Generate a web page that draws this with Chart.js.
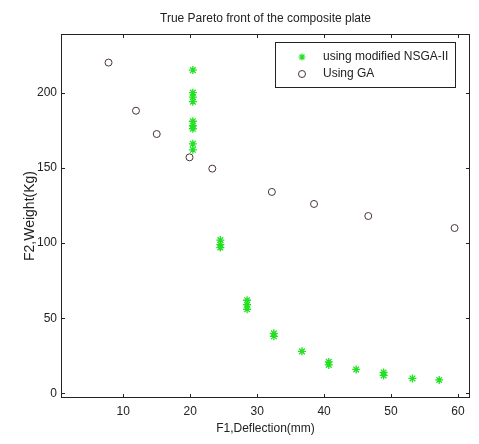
<!DOCTYPE html>
<html>
<head>
<meta charset="utf-8">
<script src="https://cdn.jsdelivr.net/npm/chart.js@4.4.0/dist/chart.umd.min.js"></script>
<style>
  html, body { margin: 0; padding: 0; background: #fff; }
  #wrap { position: relative; width: 479px; height: 444px; }
</style>
</head>
<body>
<div id="wrap"><canvas id="c" width="479" height="444"></canvas></div>
<script>
const chartTitle = "True Pareto front of the composite plate";
const xTitle = "F1,Deflection(mm)";
const yTitle = "F2,Weight(Kg)";
const seriesNames = ["using modified NSGA-II", "Using GA"];

// modified NSGA-II (clusters of near-duplicate solutions)
const nsgaX = [20.4, 20.4, 20.4, 20.4, 20.4, 20.4, 20.4, 20.4, 20.4,
               24.5, 24.5, 24.5,
               28.5, 28.5, 28.5,
               32.5, 32.5,
               36.7,
               40.7, 40.7,
               44.8,
               48.9, 48.9,
               53.2,
               57.2];
const nsgaY = [215, 200, 197, 194, 181, 178, 176, 166, 162,
               102, 99, 97,
               62, 59, 56,
               40, 38,
               28,
               21, 19,
               16,
               14, 12,
               10,
               9];

// GA
const gaX = [7.8, 11.9, 15.0, 19.9, 23.3, 32.2, 38.5, 46.6, 59.5];
const gaY = [220, 188, 172.5, 157, 149.5, 134, 126, 118, 110];

const xTicks = [10, 20, 30, 40, 50, 60];
const yTicks = [0, 50, 100, 150, 200];
const xRange = [0.7, 61.8];
const yRange = [-3, 239];

const FONT = "Liberation Sans, Arial, sans-serif";

function pts(xs, ys) { return xs.map((x, i) => ({ x: x, y: ys[i] })); }

const framePlugin = {
  id: 'frame',
  afterDatasetsDraw(chart) {
    const ctx = chart.ctx;
    const a = chart.chartArea;
    const xs = chart.scales.x, ys = chart.scales.y;
    ctx.save();
    ctx.strokeStyle = '#222';
    ctx.lineWidth = 1;
    // box
    ctx.strokeRect(Math.round(a.left) + 0.5, Math.round(a.top) + 0.5,
                   Math.round(a.right - a.left) - 1, Math.round(a.bottom - a.top) - 1);
    // inward ticks
    const L = 4;
    ctx.beginPath();
    xs.ticks.forEach(t => {
      const p = Math.round(xs.getPixelForValue(t.value)) + 0.5;
      ctx.moveTo(p, a.bottom); ctx.lineTo(p, a.bottom - L);
      ctx.moveTo(p, a.top); ctx.lineTo(p, a.top + L);
    });
    ys.ticks.forEach(t => {
      const p = Math.round(ys.getPixelForValue(t.value)) + 0.5;
      ctx.moveTo(a.left, p); ctx.lineTo(a.left + L, p);
      ctx.moveTo(a.right, p); ctx.lineTo(a.right - L, p);
    });
    ctx.stroke();

    // title
    ctx.fillStyle = '#222';
    ctx.font = "12px " + FONT;
    ctx.textAlign = 'center';
    ctx.textBaseline = 'middle';
    ctx.fillText(chartTitle, (a.left + a.right) / 2, 19);

    // legend box
    const bx = 275.5, by = 42.5, bw = 180, bh = 45;
    ctx.fillStyle = '#fff';
    ctx.fillRect(bx, by, bw, bh);
    ctx.strokeStyle = '#222';
    ctx.strokeRect(bx, by, bw, bh);
    ctx.fillStyle = '#222';
    ctx.font = "12px " + FONT;
    ctx.textAlign = 'left';
    ctx.fillText(seriesNames[0], 323, 57);
    ctx.fillText(seriesNames[1], 323, 74);
    ctx.restore();
    // legend markers
    const m0 = chart.data.datasets[0], m1 = chart.data.datasets[1];
    ctx.save();
    ctx.strokeStyle = m0.borderColor; ctx.fillStyle = m0.borderColor; ctx.lineWidth = 1.2;
    Chart.helpers.drawPoint(ctx, { pointStyle: 'star', radius: 3.5, borderWidth: 1.2, rotation: 0 }, 302, 57);
    ctx.strokeStyle = m1.borderColor; ctx.fillStyle = 'rgba(0,0,0,0)'; ctx.lineWidth = 1;
    Chart.helpers.drawPoint(ctx, { pointStyle: 'circle', radius: 3.5, borderWidth: 1, rotation: 0 }, 302, 74);
    ctx.restore();
  }
};

new Chart(document.getElementById('c'), {
  type: 'scatter',
  data: {
    datasets: [
      {
        label: seriesNames[0],
        data: pts(nsgaX, nsgaY),
        pointStyle: 'star',
        pointRadius: 4,
        borderWidth: 1.3,
        borderColor: '#22e022',
        backgroundColor: '#22e022'
      },
      {
        label: seriesNames[1],
        data: pts(gaX, gaY),
        pointStyle: 'circle',
        pointRadius: 3.5,
        borderWidth: 1,
        borderColor: '#4a3535',
        backgroundColor: 'rgba(0,0,0,0)'
      }
    ]
  },
  options: {
    responsive: false,
    animation: false,
    events: [],
    layout: { padding: { left: 0, right: 9, top: 34, bottom: 0 } },
    plugins: { legend: { display: false }, title: { display: false }, tooltip: { enabled: false } },
    scales: {
      x: {
        type: 'linear',
        min: xRange[0], max: xRange[1],
        afterBuildTicks: s => { s.ticks = xTicks.map(v => ({ value: v })); },
        afterFit: s => { s.height = 46; },
        grid: { display: false, drawTicks: false },
        border: { display: false },
        ticks: { color: '#222', font: { family: FONT, size: 12 }, padding: 6, maxRotation: 0 },
        title: { display: true, text: xTitle, color: '#222', font: { family: FONT, size: 12 }, padding: { top: 0, bottom: 8 } }
      },
      y: {
        type: 'linear',
        min: yRange[0], max: yRange[1],
        afterBuildTicks: s => { s.ticks = yTicks.map(v => ({ value: v })); },
        afterFit: s => { s.width = 61; },
        grid: { display: false, drawTicks: false },
        border: { display: false },
        ticks: { color: '#222', font: { family: FONT, size: 12 }, padding: 4 },
        title: { display: true, text: yTitle, color: '#222', font: { family: FONT, size: 14 }, padding: { top: 22, bottom: 0 } }
      }
    }
  },
  plugins: [framePlugin]
});
</script>
</body>
</html>
